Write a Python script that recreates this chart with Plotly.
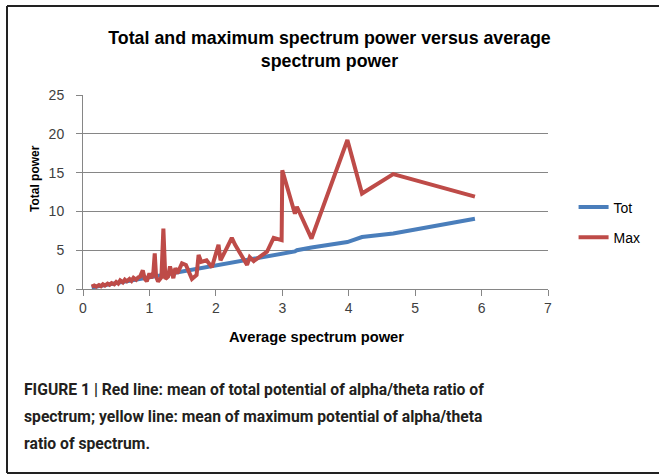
import plotly.graph_objects as go

avg_power = [0.13, 0.17, 0.20, 0.24, 0.27, 0.30, 0.33, 0.37, 0.40, 0.43, 0.47, 0.50,
             0.53, 0.56, 0.60, 0.63, 0.66, 0.70, 0.73, 0.76, 0.80, 0.83, 0.86, 0.90,
             0.93, 0.96, 1.00, 1.03, 1.06, 1.08, 1.10, 1.13, 1.18, 1.21, 1.24, 1.28,
             1.31, 1.36, 1.39, 1.42, 1.49, 1.55, 1.64, 1.71, 1.74, 1.78, 1.86, 1.94,
             2.04, 2.07, 2.16, 2.24, 2.29, 2.38, 2.47, 2.51, 2.57, 2.67, 2.77, 2.87,
             2.99, 3.00, 3.19, 3.22, 3.44, 3.98, 4.20, 4.67, 5.90]

tot_power = [0.20, 0.25, 0.30, 0.35, 0.40, 0.45, 0.50, 0.55, 0.60, 0.65, 0.70, 0.75,
             0.80, 0.85, 0.90, 0.95, 1.00, 1.05, 1.10, 1.15, 1.20, 1.25, 1.30, 1.35,
             1.40, 1.45, 1.50, 1.55, 1.60, 1.62, 1.65, 1.70, 1.77, 1.82, 1.86, 1.92,
             1.97, 2.04, 2.09, 2.13, 2.24, 2.33, 2.46, 2.57, 2.61, 2.67, 2.79, 2.91,
             3.06, 3.10, 3.24, 3.36, 3.43, 3.57, 3.70, 3.76, 3.85, 4.00, 4.15, 4.30,
             4.50, 4.52, 4.85, 5.00, 5.35, 6.05, 6.70, 7.15, 9.05]

max_power = [0.30, 0.45, 0.30, 0.50, 0.35, 0.60, 0.45, 0.70, 0.55, 0.75, 0.60, 0.90,
             0.70, 1.10, 0.85, 1.20, 1.00, 1.30, 1.05, 1.45, 1.20, 1.50, 1.60, 2.40,
             1.30, 1.00, 2.00, 1.40, 2.20, 4.60, 1.60, 0.95, 1.50, 7.80, 1.30, 1.60,
             2.90, 1.40, 2.70, 2.00, 3.30, 3.10, 1.30, 1.80, 4.40, 3.50, 3.70, 2.80,
             5.70, 3.70, 5.20, 6.60, 5.70, 4.50, 3.10, 4.10, 3.60, 4.20, 4.80, 6.60,
             6.30, 15.30, 9.70, 10.60, 6.50, 19.20, 12.30, 14.80, 11.90]

x_ticks = [0, 1, 2, 3, 4, 5, 6, 7]
y_ticks = [0, 5, 10, 15, 20, 25]

title_text = "<b>Total and maximum spectrum power versus average<br>spectrum power</b>"
x_title = "Average spectrum power"
y_title = "Total power"
caption_lines = [
    "FIGURE 1 | Red line: mean of total potential of alpha/theta ratio of",
    "spectrum; yellow line: mean of maximum potential of alpha/theta",
    "ratio of spectrum.",
]

fig = go.Figure()
fig.add_trace(go.Scatter(x=avg_power, y=tot_power, mode="lines", name="Tot",
                         line=dict(color="#4A7EBB", width=4), legendgroup="a"))
fig.add_trace(go.Scatter(x=avg_power, y=max_power, mode="lines", name="Max",
                         line=dict(color="#BE4B48", width=4), legendgroup="b"))

tick_font = dict(family="Liberation Sans", size=14, color="#404040")
axis_col = "#868686"

fig.update_layout(
    width=659, height=476,
    margin=dict(l=83, r=111, t=95, b=187, autoexpand=False),
    paper_bgcolor="white", plot_bgcolor="white",
    title=dict(text=title_text, x=0.5, xref="container", xanchor="center",
               y=1 - 43.5 / 476, yanchor="middle",
               font=dict(family="Liberation Sans", size=17.8, color="black")),
    showlegend=True,
    legend=dict(x=1.055, y=(289 - 222.5) / 194, xanchor="left", yanchor="middle",
                font=dict(family="Liberation Sans", size=14, color="black"),
                tracegroupgap=9, itemwidth=30, bgcolor="rgba(0,0,0,0)"),
    xaxis=dict(range=[0, 7], tickvals=x_ticks, ticks="outside", ticklen=6,
               tickcolor=axis_col, showline=True, linecolor=axis_col, linewidth=1,
               showgrid=False, zeroline=False, tickfont=tick_font),
    yaxis=dict(range=[0, 25], tickvals=y_ticks, ticks="outside", ticklen=6,
               tickcolor=axis_col, showline=True, linecolor=axis_col, linewidth=1,
               showgrid=True, gridcolor=axis_col, gridwidth=1, zeroline=False,
               tickfont=tick_font, ticklabelstandoff=9),
)

fig.add_annotation(text="<b>" + x_title + "</b>", xref="paper", yref="paper",
                   x=(316 - 83) / 465, y=-(337 - 289) / 194, xanchor="center",
                   yanchor="middle", showarrow=False,
                   font=dict(family="Liberation Sans", size=14.7, color="black"))
fig.add_annotation(text="<b>" + y_title + "</b>", xref="paper", yref="paper",
                   x=-(83 - 35) / 465, y=(289 - 179) / 194, xanchor="center",
                   yanchor="middle", textangle=-90, showarrow=False,
                   font=dict(family="Liberation Sans", size=12, color="black"))

for i, line in enumerate(caption_lines):
    fig.add_annotation(text="<b>" + line + "</b>", xref="paper", yref="paper",
                       x=(22 - 83) / 465, y=(289 - (389 + 27.3 * i)) / 194,
                       xanchor="left", yanchor="middle", showarrow=False,
                       font=dict(family="Roboto", size=15.7, color="#231F20"))

# outer frame
frame = dict(type="line", xref="paper", yref="paper", line=dict(color="#222222", width=2))
fig.add_shape(**frame, x0=(7 - 83) / 465, x1=(660 - 83) / 465,
              y0=(289 - 6) / 194, y1=(289 - 6) / 194)
fig.add_shape(**frame, x0=(7 - 83) / 465, x1=(7 - 83) / 465,
              y0=(289 - 6) / 194, y1=(289 - 473) / 194)
fig.add_shape(**frame, x0=(7 - 83) / 465, x1=(660 - 83) / 465,
              y0=(289 - 473) / 194, y1=(289 - 473) / 194)

fig.write_html("out.html", config={"displayModeBar": False},
               post_script="document.body.style.margin='0';")
